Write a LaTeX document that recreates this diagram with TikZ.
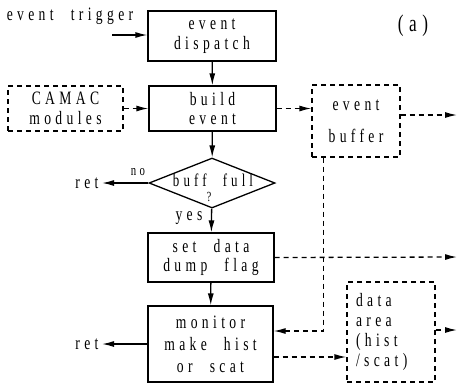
\documentclass[tikz,border=0pt]{standalone}
\usepackage{fontspec}
\newfontfamily\flowfont[LetterSpace=23,FakeStretch=0.72,WordSpace=2.2]{Liberation Serif}
\usetikzlibrary{shapes.geometric,arrows.meta}

\begin{document}
\begin{tikzpicture}[x=1bp,y=-1bp,
  every node/.style={font=\flowfont\fontsize{19}{20}\selectfont},
  proc/.style={draw,line width=1.3bp,align=center,inner sep=0pt},
  store/.style={draw,line width=1.3bp,dash pattern=on 5bp off 4bp,inner sep=0pt},
  flow/.style={line width=1.3bp,-{Latex[length=12bp,width=6bp]}},
  dflow/.style={flow,dash pattern=on 5bp off 4bp}]
\useasboundingbox (0,0) rectangle (460,382);
%boxes
\node[proc,minimum width=128bp,minimum height=50bp] (dispatch) at (212,36) {event\\dispatch};
\node[proc,minimum width=127bp,minimum height=45bp] (build) at (212.5,108.5) {build\\event};
\node[store,align=center,minimum width=115bp,minimum height=45bp] (camac) at (65.5,108.5) {CAMAC\\modules};
\node[store,align=center,minimum width=88bp,minimum height=72bp] (buffer) at (356,121) {event\\[12bp]buffer};
\node[draw,diamond,line width=1.3bp,minimum width=126bp,minimum height=50bp,inner sep=0pt] (full) at (212,183) {};
\node[proc,minimum width=126bp,minimum height=49bp] (flag) at (211,257.5) {set data\\dump flag};
\node[proc,minimum width=125bp,minimum height=76bp] (monitor) at (210.5,344) {monitor\\[2bp]make hist\\[2bp]or scat};
\node[store,align=left,minimum width=88bp,minimum height=100bp,text width=70bp] (data) at (391,332) {data\\area\\(hist\\/scat)};
%texts
\node (trigger) at (70,16) {event trigger};
\node[font=\flowfont\fontsize{24}{24}\selectfont] (a) at (413,26) {(a)};
\node[font=\flowfont\fontsize{18}{18}\selectfont] (fulltxt) at (213,180) {buff full};
\node[font=\flowfont\fontsize{14}{14}\selectfont] (qm) at (209,197) {?};
\node (ret1) at (87,183) {ret};
\node (ret2) at (87,344) {ret};
\node[font=\flowfont\fontsize{15}{15}\selectfont] (no) at (138,172) {no};
\node (yes) at (189,218) {yes};
%free ends
\coordinate (trig) at (112,35);
\coordinate (bufout) at (457,115);
\coordinate (flagout) at (457,257);
\coordinate (dataout) at (457,330);
%solid flow
\draw[flow] (trig) -- (trig -| dispatch.west);
\draw[flow] (dispatch) -- (build);
\draw[flow] (build) -- (full);
\draw[flow] (full) -- (flag);
\draw[flow] (flag) -- (monitor);
\draw[flow] (full.west) -- (ret1);
\draw[flow] (monitor.west) -- (ret2);
%dashed flow
\draw[dflow] (camac.east) -- (build.west);
\draw[dflow] (build.east) -- (build.east -| buffer.west);
\draw[dflow] (bufout -| buffer.east) -- (bufout);
\draw[dflow] (flag.east) -- (flagout);
\draw[dflow] ([xshift=12bp]buffer.south west) |- ([yshift=13bp]monitor.east);
\draw[dflow] ([yshift=-13bp]monitor.east) -- ([yshift=-13bp]monitor.east -| data.west);
\draw[dflow] (data.east |- dataout) -- (dataout);
\end{tikzpicture}
\end{document}
